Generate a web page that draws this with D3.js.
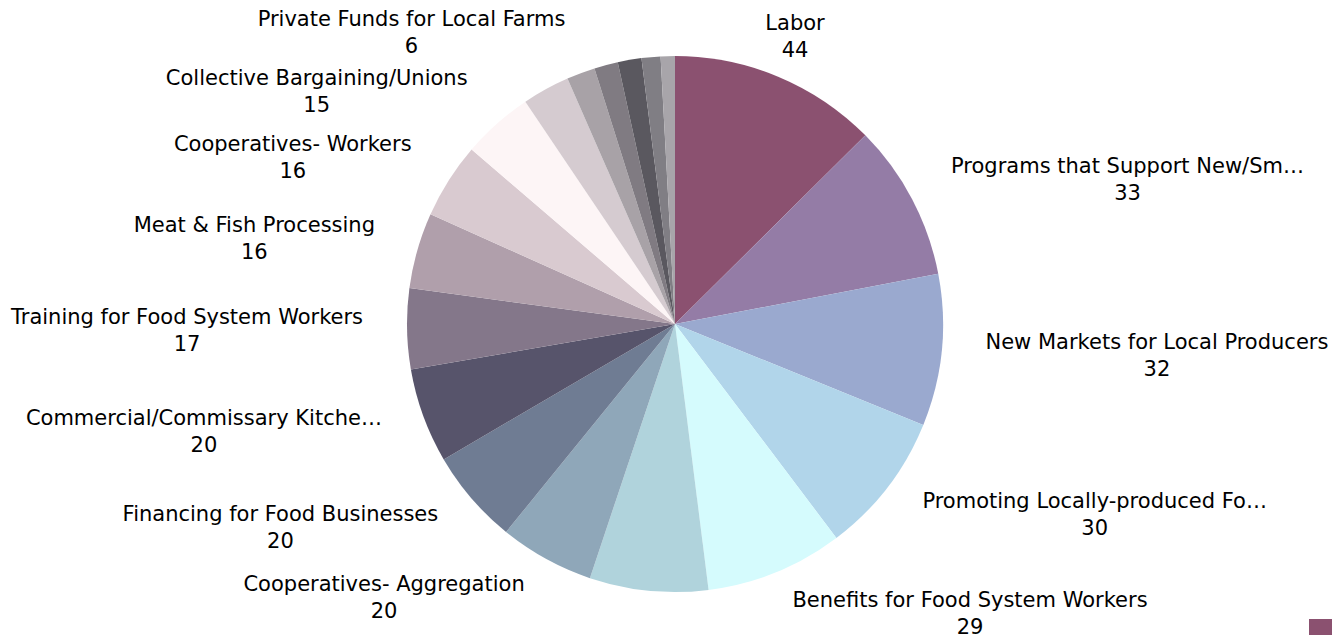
<!DOCTYPE html>
<html>
<head>
<meta charset="utf-8">
<script src="https://cdn.jsdelivr.net/npm/d3@7"></script>
<style>
  body { margin: 0; background: #fff; overflow: hidden; }
  text { font-family: "DejaVu Sans", sans-serif; font-size: 21px; fill: #000; }
</style>
</head>
<body>
<script>
const width = 1332;
const height = 635;

// slice names (null = label hidden in the original), values and colours, clockwise from 12 o'clock
const names = [
  "Labor",
  "Programs that Support New/Sm…",
  "New Markets for Local Producers",
  "Promoting Locally-produced Fo…",
  "Benefits for Food System Workers",
  null,
  "Cooperatives- Aggregation",
  "Financing for Food Businesses",
  "Commercial/Commissary Kitche…",
  "Training for Food System Workers",
  "Meat & Fish Processing",
  "Cooperatives- Workers",
  "Collective Bargaining/Unions",
  null,
  "Private Funds for Local Farms",
  null, null, null, null
];
const values = [44, 33, 32, 30, 29, 25, 20, 20, 20, 17, 16, 16, 15, 10, 6, 5, 5, 4, 3];
const colors = [
  "#8b5170", "#947ca6", "#9aa9cf", "#b1d5ea", "#d5fbfd",
  "#b0d3dc", "#8fa7b9", "#6f7c93", "#57546b", "#84778a",
  "#b09fab", "#d9cad0", "#fdf5f6", "#d5cbd0", "#a8a2a7",
  "#807b82", "#5a585f", "#807e84", "#a8a5aa"
];

const cx = 675, cy = 324;
const radius = 268;
const labelRadius = 312;

const svg = d3.select("body").append("svg")
  .attr("width", width)
  .attr("height", height);

const slices = values.map((v, i) => ({ name: names[i], value: v, color: colors[i] }));

const pie = d3.pie().sort(null).value(d => d.value);
const arcs = pie(slices);
const arc = d3.arc().innerRadius(0).outerRadius(radius);

const g = svg.append("g").attr("transform", `translate(${cx},${cy})`);

g.selectAll("path")
  .data(arcs)
  .enter().append("path")
  .attr("d", arc)
  .attr("fill", d => d.data.color);

// labels: block's inner edge sits on a circle just outside the pie
g.selectAll("g.label")
  .data(arcs.filter(d => d.data.name))
  .enter().append("g")
  .attr("class", "label")
  .each(function(d) {
    const a = (d.startAngle + d.endAngle) / 2;
    const ax = labelRadius * Math.sin(a);
    const ay = -labelRadius * Math.cos(a);
    const sel = d3.select(this);
    const t1 = sel.append("text").attr("text-anchor", "middle").text(d.data.name);
    const t2 = sel.append("text").attr("text-anchor", "middle").text(d.data.value);
    const w = Math.max(t1.node().getComputedTextLength(), t2.node().getComputedTextLength());
    let bx = ax;
    if (a >= Math.PI / 6 && a < Math.PI) bx = ax + w / 2;
    else if (a >= Math.PI) bx = ax - w / 2;
    t1.attr("x", bx).attr("y", ay - 6);
    t2.attr("x", bx).attr("y", ay + 21);
  });

// legend: only the first swatch falls inside the frame
const legend = svg.append("g").attr("transform", "translate(1309,619)");
legend.selectAll("rect")
  .data(slices.filter(d => d.name))
  .enter().append("rect")
  .attr("y", (d, i) => i * 32)
  .attr("width", 23)
  .attr("height", 23)
  .attr("fill", d => d.color);
</script>
</body>
</html>
